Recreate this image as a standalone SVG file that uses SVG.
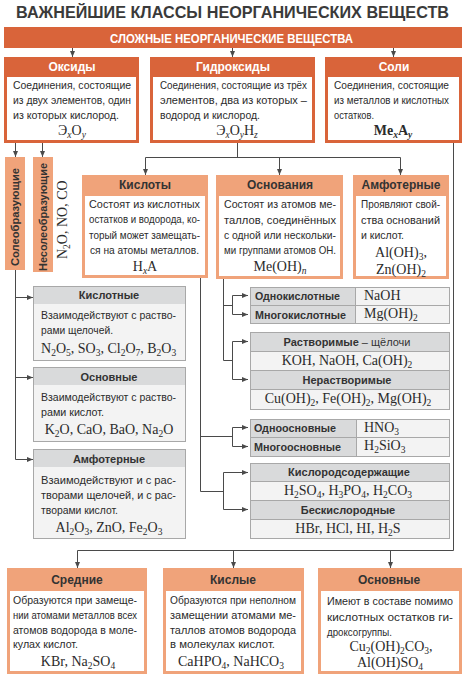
<svg xmlns="http://www.w3.org/2000/svg" width="465" height="680" viewBox="0 0 465 680">
<defs>
<marker id="ar" markerWidth="6" markerHeight="6" refX="6" refY="3" orient="auto" markerUnits="userSpaceOnUse">
<path d="M0,0.5 L6,3 L0,5.5 z" fill="#4a4a4a"/>
</marker>
<style>
.t{font-family:"Liberation Sans",Arial,sans-serif;font-size:11.5px;fill:#2b2b2b}
.f{font-family:"Liberation Serif","Times New Roman",serif;font-size:14px;fill:#2b2b2b}
.s{font-size:9.5px}
.si{font-size:9.5px;font-style:italic}
.hw{font-family:"Liberation Sans",Arial,sans-serif;font-size:12px;font-weight:bold;fill:#fff}
.hd{font-family:"Liberation Sans",Arial,sans-serif;font-size:12px;font-weight:bold;fill:#333}
.hg{font-family:"Liberation Sans",Arial,sans-serif;font-size:11px;font-weight:bold;fill:#333}
.or{fill:#d9643a}
.pe{fill:#f0a37a}
.wh{fill:#fff}
.gb{fill:#f3f3f3;stroke:#a8a8a8;stroke-width:1}
.gh{fill:#d9dadb}
.gl{stroke:#a8a8a8;stroke-width:1;fill:none}
.c{fill:none;stroke:#4a4a4a;stroke-width:1}
.ca{fill:none;stroke:#4a4a4a;stroke-width:1;marker-end:url(#ar)}
</style>
</defs>
<rect width="465" height="680" fill="#fff"/>
<text x="16" y="18" font-family="Liberation Sans,Arial,sans-serif" font-size="16.5" font-weight="bold" fill="#3a3a3a" textLength="433" lengthAdjust="spacingAndGlyphs">ВАЖНЕЙШИЕ КЛАССЫ НЕОРГАНИЧЕСКИХ ВЕЩЕСТВ</text>

<g id="banner">
<rect class="or" x="4" y="27" width="458" height="21"/>
<text class="hw" x="110" y="43" font-size="12.5" textLength="243" lengthAdjust="spacingAndGlyphs">СЛОЖНЫЕ НЕОРГАНИЧЕСКИЕ ВЕЩЕСТВА</text>
</g>

<g id="oxides">
<rect class="or" x="4" y="57" width="135" height="86"/>
<rect class="wh" x="7" y="77" width="129" height="63"/>
<text class="hw" x="72" y="71" text-anchor="middle">Оксиды</text>
<text class="t" x="13" y="89" textLength="118" lengthAdjust="spacingAndGlyphs">Соединения, состоящие</text>
<text class="t" x="13" y="104" textLength="118" lengthAdjust="spacingAndGlyphs">из двух элементов, один</text>
<text class="t" x="13" y="119" textLength="106" lengthAdjust="spacingAndGlyphs">из которых кислород.</text>
<text class="f" x="72" y="135" text-anchor="middle">Э<tspan class="si" dy="3">x</tspan><tspan dy="-3">O</tspan><tspan class="si" dy="3">y</tspan></text>
</g>

<g id="hydroxides">
<rect class="or" x="150" y="57" width="165" height="86"/>
<rect class="wh" x="153" y="77" width="159" height="63"/>
<text class="hw" x="233" y="71" text-anchor="middle">Гидроксиды</text>
<text class="t" x="160" y="89" textLength="147" lengthAdjust="spacingAndGlyphs">Соединения, состоящие из трёх</text>
<text class="t" x="160" y="104" textLength="147" lengthAdjust="spacingAndGlyphs">элементов, два из которых –</text>
<text class="t" x="160" y="119" textLength="100" lengthAdjust="spacingAndGlyphs">водород и кислород.</text>
<text class="f" x="237" y="135" text-anchor="middle">Э<tspan class="si" dy="3">x</tspan><tspan dy="-3">O</tspan><tspan class="si" dy="3">y</tspan><tspan dy="-3">H</tspan><tspan class="si" dy="3">z</tspan></text>
</g>

<g id="salts">
<rect class="or" x="325" y="57" width="137" height="86"/>
<rect class="wh" x="328" y="77" width="131" height="63"/>
<text class="hw" x="394" y="71" text-anchor="middle">Соли</text>
<text class="t" x="334" y="89" font-size="11" textLength="115" lengthAdjust="spacingAndGlyphs">Соединения, состоящие</text>
<text class="t" x="334" y="104" font-size="11" textLength="115" lengthAdjust="spacingAndGlyphs">из металлов и кислотных</text>
<text class="t" x="334" y="119" font-size="11" textLength="40" lengthAdjust="spacingAndGlyphs">остатков.</text>
<text class="f" x="393" y="135" text-anchor="middle" font-weight="bold">Me<tspan class="si" dy="3">x</tspan><tspan dy="-3">A</tspan><tspan class="si" dy="3">y</tspan></text>
</g>

<g id="salt-forming">
<rect class="pe" x="5" y="157" width="20" height="113"/>
<text class="hg" transform="translate(19,266) rotate(-90)" textLength="98" lengthAdjust="spacingAndGlyphs">Солеобразующие</text>
</g>
<g id="non-salt-forming">
<rect class="pe" x="33" y="157" width="20" height="115"/>
<text class="hg" transform="translate(47,271) rotate(-90)" textLength="108" lengthAdjust="spacingAndGlyphs">Несолеобразующие</text>
<text class="f" transform="translate(67,259) rotate(-90)">N<tspan class="s" dy="3">2</tspan><tspan dy="-3">O, NO, CO</tspan></text>
</g>

<g id="acids">
<rect class="pe" x="82" y="175" width="126" height="103"/>
<rect class="wh" x="85" y="196" width="120" height="79"/>
<text class="hd" x="145" y="189" text-anchor="middle">Кислоты</text>
<text class="t" x="89" y="208" textLength="111" lengthAdjust="spacingAndGlyphs">Состоят из кислотных</text>
<text class="t" x="89" y="223" textLength="111" lengthAdjust="spacingAndGlyphs">остатков и водорода, ко-</text>
<text class="t" x="89" y="239" textLength="111" lengthAdjust="spacingAndGlyphs">торый может замещать-</text>
<text class="t" x="90" y="254" textLength="109" lengthAdjust="spacingAndGlyphs">ся на атомы металлов.</text>
<text class="f" x="145" y="271" text-anchor="middle">H<tspan class="si" dy="3">x</tspan><tspan dy="-3">A</tspan></text>
</g>

<g id="bases">
<rect class="pe" x="216" y="175" width="127" height="104"/>
<rect class="wh" x="219" y="196" width="121" height="80"/>
<text class="hd" x="280" y="189" text-anchor="middle">Основания</text>
<text class="t" x="224" y="208" textLength="112" lengthAdjust="spacingAndGlyphs">Состоят из атомов ме-</text>
<text class="t" x="224" y="224" textLength="112" lengthAdjust="spacingAndGlyphs">таллов, соединённых</text>
<text class="t" x="224" y="239" textLength="112" lengthAdjust="spacingAndGlyphs">с одной или нескольки-</text>
<text class="t" x="224" y="254" textLength="112" lengthAdjust="spacingAndGlyphs">ми группами атомов ОН.</text>
<text class="f" x="280" y="271" text-anchor="middle">Me(OH)<tspan class="si" dy="3">n</tspan></text>
</g>

<g id="amphoteric-hydroxides">
<rect class="pe" x="353" y="175" width="96" height="104"/>
<rect class="wh" x="356" y="196" width="90" height="80"/>
<text class="hd" x="401" y="189" text-anchor="middle">Амфотерные</text>
<text class="t" x="361" y="208" textLength="79" lengthAdjust="spacingAndGlyphs">Проявляют свой-</text>
<text class="t" x="361" y="224" textLength="79" lengthAdjust="spacingAndGlyphs">ства оснований</text>
<text class="t" x="361" y="239" textLength="43" lengthAdjust="spacingAndGlyphs">и кислот.</text>
<text class="f" x="401" y="257" text-anchor="middle">Al(OH)<tspan class="s" dy="3">3</tspan><tspan dy="-3">,</tspan></text>
<text class="f" x="401" y="274" text-anchor="middle">Zn(OH)<tspan class="s" dy="3">2</tspan></text>
</g>

<g id="acidic-oxides">
<rect class="gb" x="33.5" y="286.5" width="152" height="74"/>
<rect class="gh" x="34" y="287" width="151" height="17"/>
<text class="hg" x="109" y="299" text-anchor="middle">Кислотные</text>
<text class="t" x="41" y="319" textLength="135" lengthAdjust="spacingAndGlyphs">Взаимодействуют с раство-</text>
<text class="t" x="41" y="334" textLength="72" lengthAdjust="spacingAndGlyphs">рами щелочей.</text>
<text class="f" x="41" y="353">N<tspan class="s" dy="3">2</tspan><tspan dy="-3">O</tspan><tspan class="s" dy="3">5</tspan><tspan dy="-3">, SO</tspan><tspan class="s" dy="3">3</tspan><tspan dy="-3">, Cl</tspan><tspan class="s" dy="3">2</tspan><tspan dy="-3">O</tspan><tspan class="s" dy="3">7</tspan><tspan dy="-3">, B</tspan><tspan class="s" dy="3">2</tspan><tspan dy="-3">O</tspan><tspan class="s" dy="3">3</tspan></text>
</g>

<g id="basic-oxides">
<rect class="gb" x="33.5" y="367.5" width="152" height="74"/>
<rect class="gh" x="34" y="368" width="151" height="17"/>
<text class="hg" x="109" y="381" text-anchor="middle">Основные</text>
<text class="t" x="41" y="401" textLength="135" lengthAdjust="spacingAndGlyphs">Взаимодействуют с раство-</text>
<text class="t" x="41" y="416" textLength="63" lengthAdjust="spacingAndGlyphs">рами кислот.</text>
<text class="f" x="109" y="434" text-anchor="middle">K<tspan class="s" dy="3">2</tspan><tspan dy="-3">O, CaO, BaO, Na</tspan><tspan class="s" dy="3">2</tspan><tspan dy="-3">O</tspan></text>
</g>

<g id="amphoteric-oxides">
<rect class="gb" x="33.5" y="449.5" width="152" height="89"/>
<rect class="gh" x="34" y="450" width="151" height="17"/>
<text class="hg" x="109" y="463" text-anchor="middle">Амфотерные</text>
<text class="t" x="41" y="484" textLength="135" lengthAdjust="spacingAndGlyphs">Взаимодействуют и с рас-</text>
<text class="t" x="41" y="499" textLength="135" lengthAdjust="spacingAndGlyphs">творами щелочей, и с рас-</text>
<text class="t" x="41" y="514" textLength="77" lengthAdjust="spacingAndGlyphs">творами кислот.</text>
<text class="f" x="109" y="532" text-anchor="middle">Al<tspan class="s" dy="3">2</tspan><tspan dy="-3">O</tspan><tspan class="s" dy="3">3</tspan><tspan dy="-3">, ZnO, Fe</tspan><tspan class="s" dy="3">2</tspan><tspan dy="-3">O</tspan><tspan class="s" dy="3">3</tspan></text>
</g>

<g id="base-acidity">
<rect class="gb" x="250.5" y="287.5" width="199" height="36" fill="#fff"/>
<rect class="gh" x="251" y="288" width="104" height="35"/>
<line class="gl" x1="250" y1="305.5" x2="449" y2="305.5"/>
<line class="gl" x1="355.5" y1="287" x2="355.5" y2="323"/>
<text class="hg" x="255" y="300" textLength="85" lengthAdjust="spacingAndGlyphs">Однокислотные</text>
<text class="hg" x="255" y="319" textLength="91" lengthAdjust="spacingAndGlyphs">Многокислотные</text>
<text class="f" x="364" y="300">NaOH</text>
<text class="f" x="364" y="318">Mg(OH)<tspan class="s" dy="3">2</tspan></text>
</g>

<g id="base-solubility">
<rect class="gb" x="250.5" y="332.5" width="199" height="77" fill="#fff"/>
<rect class="gh" x="251" y="333" width="198" height="18"/>
<rect class="gh" x="251" y="370" width="198" height="19"/>
<line class="gl" x1="250" y1="351.5" x2="449" y2="351.5"/>
<line class="gl" x1="250" y1="370.5" x2="449" y2="370.5"/>
<line class="gl" x1="250" y1="389.5" x2="449" y2="389.5"/>
<text class="hg" x="347" y="346" text-anchor="middle">Растворимые<tspan font-weight="normal"> – щёлочи</tspan></text>
<text class="f" x="347" y="365" text-anchor="middle">KOH, NaOH, Ca(OH)<tspan class="s" dy="3">2</tspan></text>
<text class="hg" x="347" y="384" text-anchor="middle">Нерастворимые</text>
<text class="f" x="348" y="403" text-anchor="middle">Cu(OH)<tspan class="s" dy="3">2</tspan><tspan dy="-3">, Fe(OH)</tspan><tspan class="s" dy="3">2</tspan><tspan dy="-3">, Mg(OH)</tspan><tspan class="s" dy="3">2</tspan></text>
</g>

<g id="acid-basicity">
<rect class="gb" x="250.5" y="419.5" width="199" height="37" fill="#fff"/>
<rect class="gh" x="251" y="420" width="105" height="36"/>
<line class="gl" x1="250" y1="437.5" x2="449" y2="437.5"/>
<line class="gl" x1="356.5" y1="419" x2="356.5" y2="456"/>
<text class="hg" x="254" y="432" textLength="82" lengthAdjust="spacingAndGlyphs">Одноосновные</text>
<text class="hg" x="254" y="451" textLength="87" lengthAdjust="spacingAndGlyphs">Многоосновные</text>
<text class="f" x="364" y="432">HNO<tspan class="s" dy="3">3</tspan></text>
<text class="f" x="364" y="450">H<tspan class="s" dy="3">2</tspan><tspan dy="-3">SiO</tspan><tspan class="s" dy="3">3</tspan></text>
</g>

<g id="acid-oxygen">
<rect class="gb" x="250.5" y="463.5" width="199" height="75" fill="#fff"/>
<rect class="gh" x="251" y="464" width="198" height="17"/>
<rect class="gh" x="251" y="500" width="198" height="19"/>
<line class="gl" x1="250" y1="481.5" x2="449" y2="481.5"/>
<line class="gl" x1="250" y1="500.5" x2="449" y2="500.5"/>
<line class="gl" x1="250" y1="519.5" x2="449" y2="519.5"/>
<text class="hg" x="349" y="476" text-anchor="middle">Кислородсодержащие</text>
<text class="f" x="348" y="495" text-anchor="middle">H<tspan class="s" dy="3">2</tspan><tspan dy="-3">SO</tspan><tspan class="s" dy="3">4</tspan><tspan dy="-3">, H</tspan><tspan class="s" dy="3">3</tspan><tspan dy="-3">PO</tspan><tspan class="s" dy="3">4</tspan><tspan dy="-3">, H</tspan><tspan class="s" dy="3">2</tspan><tspan dy="-3">CO</tspan><tspan class="s" dy="3">3</tspan></text>
<text class="hg" x="348" y="514" text-anchor="middle">Бескислородные</text>
<text class="f" x="348" y="533" text-anchor="middle">HBr, HCl, HI, H<tspan class="s" dy="3">2</tspan><tspan dy="-3">S</tspan></text>
</g>

<g id="normal-salts">
<rect class="pe" x="7" y="568" width="140" height="106"/>
<rect class="wh" x="10" y="591" width="134" height="80"/>
<text class="hd" x="77" y="584" text-anchor="middle">Средние</text>
<text class="t" x="13" y="604" textLength="124" lengthAdjust="spacingAndGlyphs">Образуются при замеще-</text>
<text class="t" x="13" y="619" textLength="124" lengthAdjust="spacingAndGlyphs">нии атомами металлов всех</text>
<text class="t" x="13" y="634" textLength="124" lengthAdjust="spacingAndGlyphs">атомов водорода в моле-</text>
<text class="t" x="13" y="648" textLength="65" lengthAdjust="spacingAndGlyphs">кулах кислот.</text>
<text class="f" x="78" y="666" text-anchor="middle">KBr, Na<tspan class="s" dy="3">2</tspan><tspan dy="-3">SO</tspan><tspan class="s" dy="3">4</tspan></text>
</g>

<g id="acid-salts">
<rect class="pe" x="163" y="568" width="141" height="106"/>
<rect class="wh" x="166" y="591" width="135" height="80"/>
<text class="hd" x="233" y="584" text-anchor="middle">Кислые</text>
<text class="t" x="170" y="604" textLength="126" lengthAdjust="spacingAndGlyphs">Образуются при неполном</text>
<text class="t" x="170" y="619" textLength="126" lengthAdjust="spacingAndGlyphs">замещении атомами ме-</text>
<text class="t" x="170" y="634" textLength="126" lengthAdjust="spacingAndGlyphs">таллов атомов водорода</text>
<text class="t" x="170" y="648" textLength="105" lengthAdjust="spacingAndGlyphs">в молекулах кислот.</text>
<text class="f" x="231" y="666" text-anchor="middle">CaHPO<tspan class="s" dy="3">4</tspan><tspan dy="-3">, NaHCO</tspan><tspan class="s" dy="3">3</tspan></text>
</g>

<g id="basic-salts">
<rect class="pe" x="318" y="568" width="144" height="106"/>
<rect class="wh" x="321" y="591" width="138" height="80"/>
<text class="hd" x="389" y="584" text-anchor="middle">Основные</text>
<text class="t" x="327" y="605" textLength="126" lengthAdjust="spacingAndGlyphs">Имеют в составе помимо</text>
<text class="t" x="327" y="621" textLength="126" lengthAdjust="spacingAndGlyphs">кислотных остатков ги-</text>
<text class="t" x="327" y="636" textLength="65" lengthAdjust="spacingAndGlyphs">дроксогруппы.</text>
<text class="f" x="391" y="651" text-anchor="middle">Cu<tspan class="s" dy="2.5">2</tspan><tspan dy="-2.5">(OH)</tspan><tspan class="s" dy="2.5">2</tspan><tspan dy="-2.5">CO</tspan><tspan class="s" dy="2.5">3</tspan><tspan dy="-2.5">,</tspan></text>
<text class="f" x="390" y="667" text-anchor="middle">Al(OH)SO<tspan class="s" dy="3">4</tspan></text>
</g>

<g id="connectors">
<path class="ca" d="M72.5,48 V57"/>
<path class="ca" d="M232.5,48 V57"/>
<path class="ca" d="M393.5,48 V57"/>
<path class="ca" d="M15.5,143 V157"/>
<path class="ca" d="M42.5,143 V157"/>
<path class="c" d="M15.5,270 V459.5"/>
<path class="ca" d="M15.5,297.5 H33"/>
<path class="ca" d="M15.5,377.5 H33"/>
<path class="ca" d="M15.5,459.5 H33"/>
<path class="c" d="M237.5,143 V157.5 M145.5,157.5 H400.5"/>
<path class="ca" d="M145.5,157.5 V175"/>
<path class="ca" d="M279.5,157.5 V175"/>
<path class="ca" d="M400.5,157.5 V175"/>
<path class="c" d="M453.5,143 V550.5 H77.5"/>
<path class="ca" d="M77.5,550.5 V568"/>
<path class="ca" d="M233.5,550.5 V568"/>
<path class="ca" d="M390.5,550.5 V568"/>
<path class="c" d="M200.5,278 V491.5 M200.5,436.5 H232.5 M232.5,427.5 V446.5 M200.5,491.5 H223.5 M223.5,472.5 V509.5"/>
<path class="ca" d="M232.5,427.5 H248"/>
<path class="ca" d="M232.5,446.5 H248"/>
<path class="ca" d="M223.5,472.5 H248"/>
<path class="ca" d="M223.5,509.5 H248"/>
<path class="c" d="M223.5,279 V360.5 M223.5,305.5 H232.5 M232.5,295.5 V314.5 M223.5,360.5 H232.5 M232.5,341.5 V379.5"/>
<path class="ca" d="M232.5,295.5 H248"/>
<path class="ca" d="M232.5,314.5 H248"/>
<path class="ca" d="M232.5,341.5 H248"/>
<path class="ca" d="M232.5,379.5 H248"/>
</g>
</svg>
